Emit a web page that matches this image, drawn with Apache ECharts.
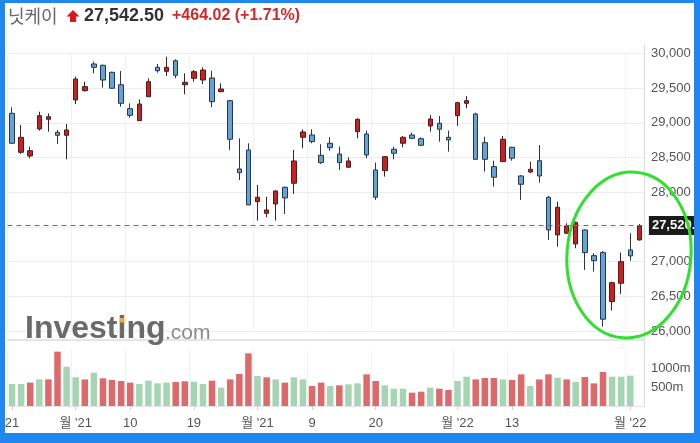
<!DOCTYPE html>
<html>
<head>
<meta charset="utf-8">
<script src="https://cdn.jsdelivr.net/npm/echarts@6/dist/echarts.min.js"></script>
<style>
html, body { margin: 0; padding: 0; background: #fff; }
#wrap { position: relative; width: 700px; height: 443px; overflow: hidden; }
#chart { width: 700px; height: 443px; }
#frame {
  position: absolute; left: 0; top: 0; width: 700px; height: 443px;
  box-sizing: border-box; border-style: solid; border-color: #1e88f0;
  border-width: 3px 6px 10px 5px; pointer-events: none;
}
</style>
</head>
<body>
<div id="wrap"><div id="chart"></div><div id="frame"></div></div>
<script>
// 닛케이 225, 일봉 (2021-10-21 ~ 2022-02-02)
var dates = [
  '2021-10-21','2021-10-22','2021-10-25','2021-10-26','2021-10-27','2021-10-28','2021-10-29',
  '2021-11-01','2021-11-02','2021-11-04','2021-11-05','2021-11-08','2021-11-09','2021-11-10',
  '2021-11-11','2021-11-12','2021-11-15','2021-11-16','2021-11-17','2021-11-18','2021-11-19',
  '2021-11-22','2021-11-24','2021-11-25','2021-11-26','2021-11-29','2021-11-30',
  '2021-12-01','2021-12-02','2021-12-03','2021-12-06','2021-12-07','2021-12-08','2021-12-09',
  '2021-12-10','2021-12-13','2021-12-14','2021-12-15','2021-12-16','2021-12-17','2021-12-20',
  '2021-12-21','2021-12-22','2021-12-23','2021-12-24','2021-12-27','2021-12-28','2021-12-29',
  '2021-12-30','2022-01-04','2022-01-05','2022-01-06','2022-01-07','2022-01-11','2022-01-12',
  '2022-01-13','2022-01-14','2022-01-17','2022-01-18','2022-01-19','2022-01-20','2022-01-21',
  '2022-01-24','2022-01-25','2022-01-26','2022-01-27','2022-01-28','2022-01-31',
  '2022-02-01','2022-02-02'
];
var open = [
  29138,28576,28523,28912,29052,28864,28821,29330,29464,29849,29830,29729,29550,29205,
  29032,29377,29801,29743,29896,29550,29643,29618,29647,29450,29320,28336,28609,
  27864,27697,27831,28072,28130,28792,28826,28533,28706,28552,28360,28873,28840,28321,
  28311,28620,28706,28826,28772,28955,28994,28792,29104,29282,29128,28715,28369,28441,
  28648,28235,28292,28455,27928,27385,27409,27255,27457,27086,27130,26423,26688,27168,27313
];
var close = [
  28706,28792,28599,29104,29089,28821,28898,29633,29522,29801,29618,29499,29282,29109,
  29272,29594,29752,29801,29686,29585,29738,29762,29305,29488,28764,28282,27817,
  27928,27745,28019,27918,28451,28869,28729,28427,28643,28427,28451,29052,28537,27928,
  28513,28562,28792,28778,28677,29056,28908,28754,29291,29320,28475,28475,28216,28764,
  28490,28115,28331,28235,27457,27784,27514,27567,27130,27014,26170,26697,27000,27083,27514
];
var low = [
  28695,28552,28490,28888,28873,28696,28475,29272,29450,29715,29507,29495,29233,29075,
  29032,29377,29723,29676,29643,29412,29594,29560,29225,29441,28609,28177,27817,
  27591,27640,27591,27687,27975,28634,28706,28408,28599,28321,28360,28778,28490,27889,
  28225,28475,28648,28764,28667,28873,28729,28585,28955,29210,28475,28297,28081,28441,
  28455,27889,28274,28138,27313,27216,27399,27193,26880,26856,26063,26294,26534,27014,27302
];
var high = [
  29225,28970,28657,29161,29138,28898,28984,29666,29594,29882,29839,29738,29748,29282,
  29340,29643,29849,29954,29916,29715,29762,29801,29752,29571,29330,28778,28706,
  28105,27936,28023,28081,28609,28908,28908,28692,28792,28657,28504,29066,28888,28427,
  28523,28657,28811,28859,28792,29114,29099,28888,29305,29388,29147,28801,28455,28811,
  28657,28249,28441,28681,27947,27864,27553,27576,27467,27121,27154,26712,27130,27409,27543
];
// 거래량 (백만), 마지막 거래일은 아직 없음
var volume = [
  580,580,615,700,700,1430,1035,755,700,877,728,684,658,615,580,667,596,615,631,650,
  640,580,667,482,700,842,1386,790,755,700,615,755,700,526,615,526,544,570,596,833,
  658,544,456,456,351,377,482,456,421,658,772,700,737,737,700,684,833,526,700,833,
  745,700,631,763,596,895,772,772,798,null
];
// 1 = 초록 막대, 0 = 빨간 막대
var volGreen = [
  1,1,0,1,0,0,1,1,0,1, 0,0,0,0,1,1,1,1,0,0, 1,1,0,1,0,0,0,1,0,1,
  0,1,1,0,0,1,0,1,1,0, 0,1,1,1,0,0,1,0,0,1, 1,0,0,0,1,0,0,1,0,0,
  1,0,1,0,0,0,1,1,1,0
];
var tickIdx = [0, 7, 13, 20, 27, 33, 40, 49, 55, 68];
var tickText = ['21', "월 '21", '10', '19', "월 '21", '9', '20', "월 '22", '13', "월 '22"];
var lastLine = 27520.6;

var fontLat = 'Liberation Sans, Arial, Noto Sans CJK KR, sans-serif';

var candles = dates.map(function (d, i) {
  return [open[i], close[i], low[i], high[i]];
});
var volData = volume.map(function (v, i) {
  return { value: v, itemStyle: { color: volGreen[i] ? '#a5d5b3' : '#df686b' } };
});
function atTick(i) { return tickIdx.indexOf(i) >= 0; }

var chart = echarts.init(document.getElementById('chart'));
chart.setOption({
  animation: false,
  textStyle: { fontFamily: fontLat },
  grid: [
    { left: 7.5, right: 56.1, top: 53.5, height: 277.5 },
    { left: 7.5, right: 56.1, top: 349, height: 57 }
  ],
  xAxis: [
    {
      type: 'category', gridIndex: 0, data: dates,
      axisLine: { show: false }, axisTick: { show: false }, axisLabel: { show: false },
      splitLine: { show: true, interval: atTick, lineStyle: { color: '#f2f2f2' } }
    },
    {
      type: 'category', gridIndex: 1, data: dates,
      axisLine: { lineStyle: { color: '#e4e4e4' } },
      axisTick: { show: true, interval: atTick, alignWithLabel: true, length: 4, lineStyle: { color: '#cfcfcf' } },
      axisLabel: {
        interval: atTick, color: '#555', fontSize: 13, margin: 11,
        formatter: function (v, i) { return tickText[tickIdx.indexOf(i)]; }
      },
      splitLine: { show: true, interval: atTick, lineStyle: { color: '#f2f2f2' } }
    }
  ],
  yAxis: [
    {
      type: 'value', gridIndex: 0, position: 'right', min: 26000, max: 30000, interval: 500,
      axisLine: { show: false }, axisTick: { show: false },
      axisLabel: {
        color: '#555', fontSize: 13, margin: 7,
        formatter: function (v) { return v.toLocaleString('en-US'); }
      },
      splitLine: { lineStyle: { color: '#ececec' } }
    },
    {
      type: 'value', gridIndex: 1, position: 'right', min: 0, max: 1500, interval: 500,
      axisLine: { show: false }, axisTick: { show: false }, splitLine: { show: false },
      axisLabel: {
        color: '#555', fontSize: 13, margin: 7,
        formatter: function (v) { return (v === 500 || v === 1000) ? v + 'm' : ''; }
      }
    }
  ],
  series: [
    {
      type: 'candlestick', xAxisIndex: 0, yAxisIndex: 0, data: candles, barWidth: 5,
      itemStyle: {
        color: '#d41c1c', color0: '#66a2d8',
        borderColor: '#3d2424', borderColor0: '#24384c', borderWidth: 1
      },
      markLine: {
        silent: true, symbol: ['none', 'none'],
        data: [{ yAxis: lastLine }],
        lineStyle: { color: '#6a6a6a', type: [5, 4], width: 1 },
        label: {
          position: 'end', distance: 5,
          formatter: function () { return '27,520.6'; },
          backgroundColor: '#1b1b1b', color: '#fff', fontWeight: 'bold', fontSize: 13,
          padding: [3, 3, 3, 3]
        }
      }
    },
    {
      type: 'bar', xAxisIndex: 1, yAxisIndex: 1, data: volData, barWidth: 6.5
    }
  ],
  graphic: [
    { type: 'line', shape: { x1: 7, y1: 340, x2: 644, y2: 340 }, style: { stroke: '#c9c9c9', lineWidth: 1 }, z: 1 },
    { type: 'line', shape: { x1: 644.5, y1: 45, x2: 644.5, y2: 407 }, style: { stroke: '#dcdcdc', lineWidth: 1 }, z: 1 },
    { type: 'text', x: 8, y: 16, style: { text: '닛케이', font: '18px "Noto Sans CJK KR"', fill: '#666', textVerticalAlign: 'middle' } },
    {
      type: 'polygon',
      shape: { points: [[73, 10], [79.5, 16.5], [76, 16.5], [76, 22], [70, 22], [70, 16.5], [66.5, 16.5]] },
      style: { fill: '#e01515' }
    },
    { type: 'text', x: 84, y: 16, style: { text: '27,542.50', font: 'bold 18px ' + fontLat, fill: '#333', textVerticalAlign: 'middle' } },
    { type: 'text', x: 172, y: 16, style: { text: '+464.02 (+1.71%)', font: 'bold 16px ' + fontLat, fill: '#d3282b', textVerticalAlign: 'middle' } },
    { type: 'text', x: 25, y: 329, z: 50, style: { text: 'Investing', font: 'bold 32px ' + fontLat, fill: '#6a6a6a', textVerticalAlign: 'middle' } },
    { type: 'rect', z: 51, shape: { x: 119.5, y: 318, width: 5, height: 4.5 }, style: { fill: '#f2a93b' } },
    { type: 'text', x: 165, y: 333, z: 50, style: { text: '.com', font: '21px ' + fontLat, fill: '#8a8a8a', textVerticalAlign: 'middle' } },
    {
      type: 'ellipse', z: 100,
      x: 629, y: 255, rotation: -0.08,
      shape: { cx: 0, cy: 0, rx: 62, ry: 83 },
      style: { fill: 'none', stroke: '#2fe02f', lineWidth: 3 }
    }
  ]
});
</script>
</body>
</html>
